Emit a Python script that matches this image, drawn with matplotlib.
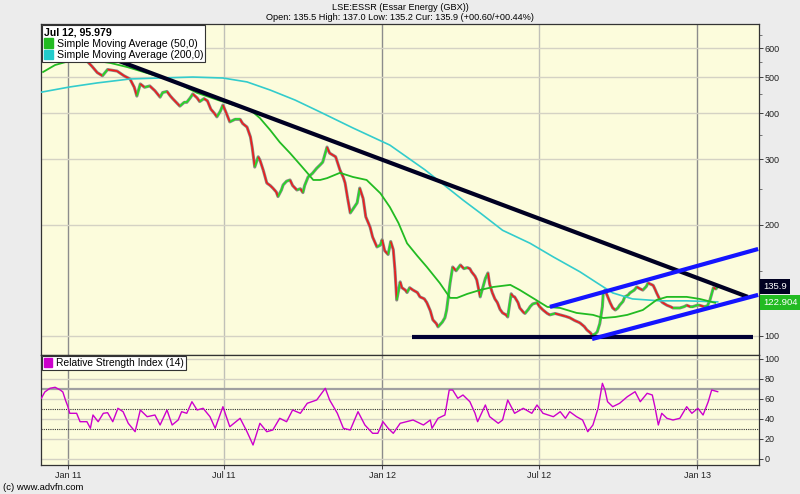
import matplotlib
matplotlib.use('Agg')
import matplotlib.pyplot as plt
from matplotlib.collections import LineCollection
from matplotlib.patches import Patch
from matplotlib.ticker import FixedLocator, NullFormatter
import numpy as np
import pandas as pd

plt.rcParams['font.family'] = ['Liberation Sans', 'DejaVu Sans']

# all x values are days counted from 1 Jan 2011
base = pd.Timestamp('2011-01-01')

price_days = [-27, -15, -3, 8, 20, 28, 34, 40, 46, 57, 65, 72, 77, 80, 84, 89, 95, 101, 107, 110,
              115, 119, 122, 127, 130, 135, 138, 142, 145, 150, 153, 158, 162, 166, 170, 173, 177, 180, 184, 188,
              194, 200, 203, 208, 212, 214, 217, 221, 223, 227, 231, 235, 238, 242, 244, 248, 250, 254, 258, 261,
              266, 270, 273, 275, 279, 284, 289, 293, 296, 301, 304, 308, 311, 316, 320, 322, 325, 328, 331, 336,
              339, 343, 346, 351, 354, 359, 363, 365, 368, 372, 375, 378, 380, 382, 386, 388, 392, 394, 397, 401,
              406, 409, 414, 417, 421, 424, 428, 430, 435, 438, 440, 444, 447, 451, 456, 460, 464, 467, 469, 473,
              475, 479, 482, 485, 488, 490, 493, 496, 499, 502, 505, 509, 511, 515, 517, 519, 523, 525, 529, 531,
              535, 537, 540, 545, 548, 552, 557, 560, 566, 572, 578, 583, 589, 593, 595, 600, 603, 607, 609, 612,
              615, 618, 621, 622, 624, 627, 630, 633, 636, 639, 641, 645, 647, 651, 653, 658, 661, 665, 668, 672,
              674, 677, 680, 682, 684, 688, 691, 696, 700, 703, 708, 711, 716, 719, 723, 726, 731, 734, 739, 743,
              746, 750, 753, 755]
price_close = [560, 575, 590, 580, 560, 535, 515, 505, 525, 520, 505, 495, 470, 445, 480, 470, 474, 460, 442, 455,
               458, 445, 437, 425, 418, 428, 428, 440, 451, 440, 430, 438, 432, 410, 400, 391, 405, 421, 400, 379,
               385, 385, 375, 367, 345, 324, 286, 305, 299, 280, 259, 255, 251, 245, 238, 248, 256, 262, 264, 255,
               248, 250, 244, 255, 269, 275, 284, 290, 295, 324, 312, 308, 305, 281, 268, 259, 235, 215, 220, 229,
               251, 235, 210, 197, 185, 174, 176, 182, 170, 166, 180, 171, 150, 125, 140, 135, 133, 131, 135, 133,
               131, 127.5, 126, 123, 117, 110.5, 108, 105.8, 109, 112, 117.5, 139, 153.6, 150, 155.5, 152, 153, 152, 149, 145,
               141.7, 127.5, 135, 143, 148, 138, 131, 126, 123, 118, 115.4, 114, 112.5, 130, 128, 127.5, 123, 119, 116, 115,
               118, 120, 122, 123, 120, 117.5, 115, 114, 115, 114, 113, 112, 110, 109, 108.4, 106, 103.8, 102, 100.6, 101,
               102.5, 108, 120, 130.7, 133, 128, 123, 119, 117.5, 119, 121, 124, 127.5, 129, 130.7, 133, 135.6, 134, 133, 136,
               139, 138, 137, 134, 130.7, 125, 123, 121, 120, 119, 119, 119, 120, 121, 120, 120, 121, 121, 120, 120.5,
               125, 135, 134, 135.9]

sma50_days = [-29, -15, 2, 26, 49, 69, 95, 122, 150, 177, 212, 223, 235, 246, 258, 270, 278, 285, 293, 301,
              316, 331, 347, 363, 374, 384, 394, 406, 417, 432, 444, 452, 464, 479, 494, 514, 525, 540, 557, 572,
              591, 610, 622, 636, 650, 668, 684, 696, 719, 734, 752]
sma50 = [517, 540, 554, 557, 547, 533, 511, 489, 454, 432, 408, 388, 360, 334, 312, 290, 276, 264, 264, 267,
         276, 269, 264, 243, 223, 202, 178, 164.5, 153.6, 139, 126.7, 126.7, 129.9, 133.1, 135.6, 137.4, 133.1, 126.7, 119.8, 119,
         115.4, 114, 111.8, 112.5, 114, 117.5, 125.1, 127.5, 127.5, 125.9, 122.904]

sma200_days = [-31, 2, 34, 72, 107, 145, 180, 208, 235, 264, 293, 331, 374, 415, 459, 479, 505, 537, 564, 595,
               615, 633, 656, 688, 719, 755]
sma200 = [456, 471, 483, 495, 498, 501, 498, 486, 462, 434, 403, 365, 328, 281, 233, 215, 193, 178, 163.5, 149,
          139, 130.7, 125.9, 124.4, 124.4, 123.6]

rsi_days = [-31, -27, -21, -15, -9, -6, -3, 0, 2, 10, 14, 22, 26, 29, 35, 41, 46, 52, 58, 64,
            70, 78, 84, 92, 101, 107, 115, 121, 128, 132, 138, 144, 150, 157, 165, 171, 180, 188, 200, 208,
            215, 223, 231, 238, 246, 254, 261, 270, 278, 289, 299, 304, 313, 320, 328, 337, 345, 354, 360, 366,
            372, 378, 386, 401, 413, 421, 423, 430, 438, 443, 447, 453, 459, 467, 473, 476, 485, 490, 500, 505,
            511, 519, 529, 539, 545, 552, 564, 572, 578, 583, 591, 598, 604, 610, 616, 621, 624, 627, 633, 641,
            650, 659, 665, 673, 679, 682, 686, 690, 696, 703, 711, 719, 725, 732, 738, 744, 748, 755]
rsi = [60.7, 67, 70.7, 71.7, 69, 67, 59, 52, 45.7, 45.7, 37.3, 37.3, 30.7, 44, 37.3, 45.7, 46.3, 37.3, 50.7, 47.3,
       35.7, 27.3, 49, 42.3, 44, 34, 49, 34, 39, 47.3, 45.7, 57.3, 49, 50.7, 42.3, 30.7, 52.3, 32.3, 40.7, 27.3,
       14, 35.7, 27.3, 29, 40.7, 37.3, 49, 45.7, 55.7, 59, 70.7, 59, 45.7, 30.7, 29, 47.3, 34, 25.7, 25.7, 37.3,
       30.7, 25.7, 35.7, 39, 34, 39, 30.7, 40.7, 44, 69, 69, 60.7, 64, 57.3, 45.7, 37.3, 54, 42.3, 35.7, 39,
       59, 45.7, 50.7, 45.7, 54, 45.7, 42.3, 47.3, 40.7, 47.3, 42.3, 39, 27.3, 34, 50.7, 75.7, 69, 57.3, 52.3, 55.7,
       62.3, 67.3, 57.3, 65.7, 64, 52.3, 34, 45.7, 40.7, 39, 40.7, 52.3, 45.7, 50.7, 44, 57.3, 69, 67.3]

# drawn trend lines (start, end)
resist_days, resist_vals = [31, 790], [586, 127.5]
support_days, support_vals = [400, 796], [99.5, 99.5]
chan_hi_days, chan_hi_vals = [560, 802], [119.8, 171.8]
chan_lo_days, chan_lo_vals = [609, 802], [98.1, 129.1]

tick_dates = ['2011-01-01', '2011-07-01', '2012-01-01', '2012-07-01', '2013-01-01']
tick_labels = ['Jan 11', 'Jul 11', 'Jan 12', 'Jul 12', 'Jan 13']
price_ticks = [100, 200, 300, 400, 500, 600]
price_minor = [150, 250, 350, 450, 550, 650]
rsi_ticks = [0, 20, 40, 60, 80, 100]

tick_pos = [(pd.Timestamp(t) - base).days for t in tick_dates]

bg = '#fcfcdc'
fig = plt.figure(figsize=(8, 4.94), dpi=100, facecolor='#ececec')
ax = fig.add_axes([41/800, 1-355/494, 718/800, 331/494], facecolor=bg)
ax2 = fig.add_axes([41/800, 1-465/494, 718/800, 110/494], facecolor=bg, sharex=ax)

fig.text(0.5, 1-7/494, 'LSE:ESSR (Essar Energy (GBX))', ha='center', va='center', fontsize=6.6)
fig.text(0.5, 1-18/494, 'Open: 135.5 High: 137.0 Low: 135.2 Cur: 135.9 (+00.60/+00.44%)',
         ha='center', va='center', fontsize=6.6)
fig.text(3/800, 1-487/494, '(c) www.advfn.com', ha='left', va='center', fontsize=6.8)

# ---- price panel ----
ax.set_yscale('log')
ax.set_ylim(88.8, 697)
ax.set_xlim(-31.4, 803)

for t, lab in zip(tick_pos, tick_labels):
    c = '#8c8c8c' if lab.startswith('Jan') else '#c0c0b8'
    ax.axvline(t, color=c, lw=1, zorder=1)
    ax2.axvline(t, color=c, lw=1, zorder=1)
for v in price_ticks:
    ax.axhline(v, color='#d4d2c4', lw=1, zorder=1)

x = np.array(price_days, dtype=float)
y = np.array(price_close, dtype=float)
ax.plot(x, y, color='#8a8a8a', lw=2.2, zorder=2)
segs = np.stack([np.column_stack([x[:-1], y[:-1]]), np.column_stack([x[1:], y[1:]])], axis=1)
cols = ['#22dd22' if b >= a else '#ee1c1c' for a, b in zip(y[:-1], y[1:])]
ax.add_collection(LineCollection(segs, colors=cols, linewidths=1.2, zorder=3))

ax.plot(sma200_days, sma200, color='#33cccc', lw=1.2, zorder=4)
ax.plot(sma50_days, sma50, color='#22bb22', lw=1.3, zorder=4)

ax.plot(resist_days, resist_vals, color='#000022', lw=3.0, solid_capstyle='butt', zorder=5)
ax.plot(support_days, support_vals, color='#000033', lw=3.0, solid_capstyle='butt', zorder=5)
ax.plot(chan_hi_days, chan_hi_vals, color='#1414ff', lw=3.0, solid_capstyle='butt', zorder=5)
ax.plot(chan_lo_days, chan_lo_vals, color='#1414ff', lw=3.0, solid_capstyle='butt', zorder=5)

ax.yaxis.tick_right()
ax.yaxis.set_major_locator(FixedLocator(price_ticks))
ax.yaxis.set_minor_locator(FixedLocator(price_minor))
ax.yaxis.set_minor_formatter(NullFormatter())
ax.set_yticklabels([str(v) for v in price_ticks])
ax.tick_params(axis='y', which='major', labelsize=6.5, length=3, width=0.6, pad=1, colors='#222222')
ax.tick_params(axis='y', which='minor', length=2, width=0.5, colors='#444444')
ax.set_xticks(tick_pos)
ax.tick_params(axis='x', length=0, labelbottom=False)

leg = ax.legend(handles=[Patch(color='#22bb22'), Patch(color='#22cccc')],
                labels=['Simple Moving Average (50,0)', 'Simple Moving Average (200,0)'],
                title='Jul 12, 95.979', loc='upper left', alignment='left', fontsize=7.6,
                title_fontproperties={'weight': 'bold', 'size': 7.6},
                frameon=True, fancybox=False, framealpha=1, edgecolor='#333333',
                borderaxespad=0.1, borderpad=0.2, handlelength=0.8, handleheight=1.0,
                handletextpad=0.4, labelspacing=0.1)
leg.get_frame().set_linewidth(0.8)
leg.set_zorder(10)

ax.annotate(f'{price_close[-1]:.1f}', xy=(1.0, price_close[-1]), xycoords=ax.get_yaxis_transform(),
            xytext=(3, 0), textcoords='offset points', ha='left', va='center', fontsize=6.8,
            color='white', bbox=dict(boxstyle='square,pad=0.3', fc='#000022', ec='none'),
            annotation_clip=False)
ax.annotate(f'{sma50[-1]:.3f}', xy=(1.0, sma50[-1]), xycoords=ax.get_yaxis_transform(),
            xytext=(3, 0), textcoords='offset points', ha='left', va='center', fontsize=6.8,
            color='white', bbox=dict(boxstyle='square,pad=0.3', fc='#22bb22', ec='none'),
            annotation_clip=False)

# ---- RSI panel ----
ax2.set_ylim(-6, 104)
for v in rsi_ticks:
    ax2.axhline(v, color='#d4d2c4', lw=1, zorder=1)
ax2.axhline(70, color='#a0a0a0', lw=1.6, zorder=1)
ax2.axhline(50, color='#333333', lw=0.8, ls=(0, (1, 1)), zorder=1)
ax2.axhline(30, color='#333333', lw=0.8, ls=(0, (1, 1)), zorder=1)
ax2.plot(rsi_days, rsi, color='#cc00cc', lw=1.0, zorder=3)

ax2.yaxis.tick_right()
ax2.set_yticks(rsi_ticks)
ax2.tick_params(axis='y', labelsize=6.5, length=3, width=0.6, pad=1, colors='#222222')
ax2.set_xticks(tick_pos)
ax2.set_xticklabels(tick_labels)
ax2.tick_params(axis='x', labelsize=6.5, length=3, width=0.6, pad=1.5, colors='#222222')

leg2 = ax2.legend(handles=[Patch(color='#cc00cc')], labels=['Relative Strength Index (14)'],
                  loc='upper left', fontsize=7.4, frameon=True, fancybox=False, framealpha=1,
                  edgecolor='#333333', borderaxespad=0.1, borderpad=0.2, handlelength=0.8,
                  handleheight=1.0, handletextpad=0.4)
leg2.get_frame().set_linewidth(0.8)

for a in (ax, ax2):
    for s in a.spines.values():
        s.set_color('#333333')
        s.set_linewidth(0.9)

fig.savefig('out.png', dpi=100, facecolor=fig.get_facecolor())
